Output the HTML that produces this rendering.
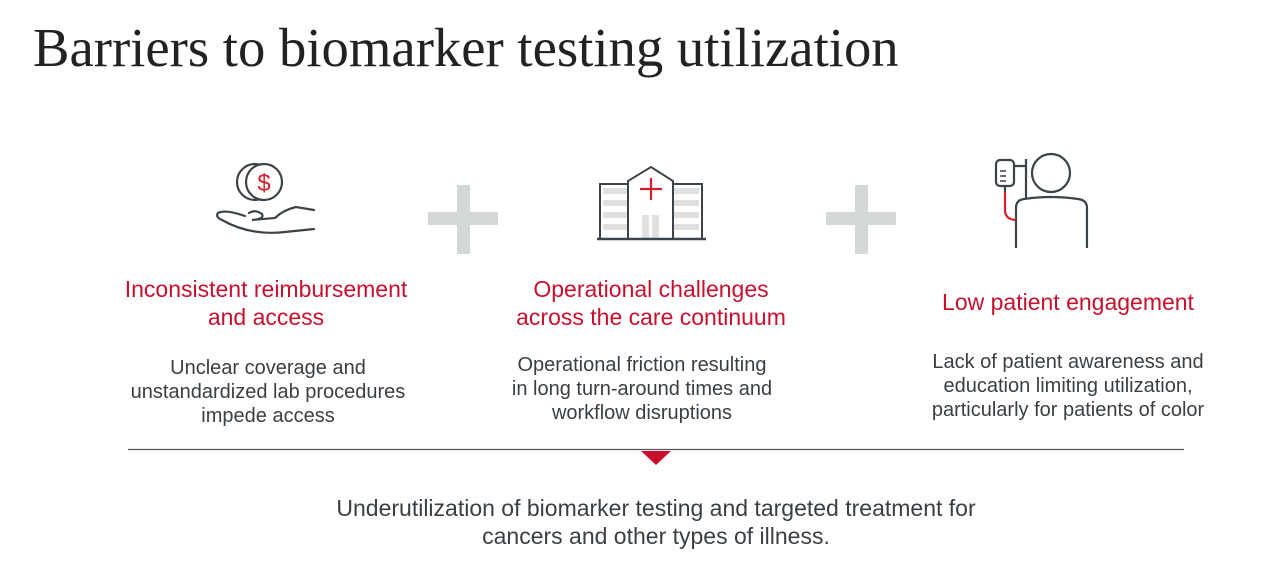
<!DOCTYPE html>
<html><head><style>
body{margin:0;width:1280px;height:564px;background:#fff;position:relative;overflow:hidden;font-family:"Liberation Sans",sans-serif}
.t{position:absolute;text-align:center;white-space:nowrap}
.h{color:#c8102e;font-size:23px;line-height:28px}
.b{color:#3a3f44;font-size:20px;line-height:24px}
</style></head><body>
<div style="position:absolute;left:33px;top:16px;font-family:'Liberation Serif',serif;font-size:54.7px;color:#222;white-space:nowrap">Barriers to biomarker testing utilization</div>

<svg width="1280" height="564" style="position:absolute;left:0;top:0">
<g fill="#d5d8d8">
<rect x="457" y="185" width="13" height="69"/><rect x="428" y="212" width="70" height="13"/>
<rect x="855" y="185" width="13" height="69"/><rect x="826" y="212" width="70" height="13"/>
</g>
<g fill="none" stroke="#3d4449" stroke-width="2.2" stroke-linecap="round">
<circle cx="255" cy="182" r="18"/>
<circle cx="264" cy="182" r="18" fill="#fff"/>
<path d="M218 213 Q215 217 222 220 Q250 236 285 232 L314 229"/>
<path d="M218 213 Q225 209 245 216"/>
<path d="M249 213 Q255 209 262 214 Q265 219 252 220 L275 218 Q283 210 296 207 L314 210"/>
</g>
<text x="264" y="191" font-family="Liberation Sans" font-size="24" fill="#d0202e" text-anchor="middle">$</text>
<g fill="#e0e0e0">
<rect x="603" y="188" width="25" height="6"/><rect x="603" y="200" width="25" height="6"/><rect x="603" y="212" width="25" height="6"/><rect x="603" y="224" width="25" height="6"/>
<rect x="674" y="188" width="25" height="6"/><rect x="674" y="200" width="25" height="6"/><rect x="674" y="212" width="25" height="6"/><rect x="674" y="224" width="25" height="6"/>
<rect x="642" y="215" width="7" height="23"/><rect x="652" y="215" width="7" height="23"/>
</g>
<g fill="none" stroke="#3d4449" stroke-width="2">
<path d="M628 238 V181 L651 167 L673 181 V238"/>
<path d="M600 238 V184 H628 M673 184 H702 V238"/>
<path d="M597 239 H706" stroke-width="2.5"/>
</g>
<path d="M651 178 V200 M640 189 H662" stroke="#d0202e" stroke-width="2.2"/>
<g fill="none" stroke="#3d4449" stroke-width="2.2">
<circle cx="1051" cy="173" r="19"/>
<path d="M1016 248 V208 Q1016 200 1024 199 Q1051 195 1078 199 Q1087 200 1087 208 V248"/>
<path d="M1026 159 V198"/>
<rect x="996" y="160" width="18" height="26" rx="4"/>
<path d="M1014 166 H1026 M1005 186 V192"/>
<path d="M1000 171 H1006 M1000 176 H1006 M1000 181 H1006" stroke-width="1.5"/>
</g>
<path d="M1005 192 V210 Q1005 219 1015 220" stroke="#e0202e" stroke-width="2.2" fill="none"/>
<path d="M128 449.5 H1184" stroke="#555" stroke-width="1.2"/>
<path d="M641 451 H671 L656 465 Z" fill="#c8102e"/>
</svg>

<div class="t h" style="left:266px;top:275px;transform:translateX(-50%)">Inconsistent reimbursement<br>and access</div>
<div class="t h" style="left:651px;top:275px;transform:translateX(-50%)">Operational challenges<br>across the care continuum</div>
<div class="t h" style="left:1068px;top:288px;transform:translateX(-50%)">Low patient engagement</div>

<div class="t b" style="left:268px;top:356px;transform:translateX(-50%)">Unclear coverage and<br>unstandardized lab procedures<br>impede access</div>
<div class="t b" style="left:642px;top:353px;transform:translateX(-50%)">Operational friction resulting<br>in long turn-around times and<br>workflow disruptions</div>
<div class="t b" style="left:1068px;top:350px;transform:translateX(-50%)">Lack of patient awareness and<br>education limiting utilization,<br>particularly for patients of color</div>

<div class="t" style="left:656px;top:494px;transform:translateX(-50%);font-size:23px;line-height:28px;color:#3a3f44">Underutilization of biomarker testing and targeted treatment for<br>cancers and other types of illness.</div>
</body></html>
